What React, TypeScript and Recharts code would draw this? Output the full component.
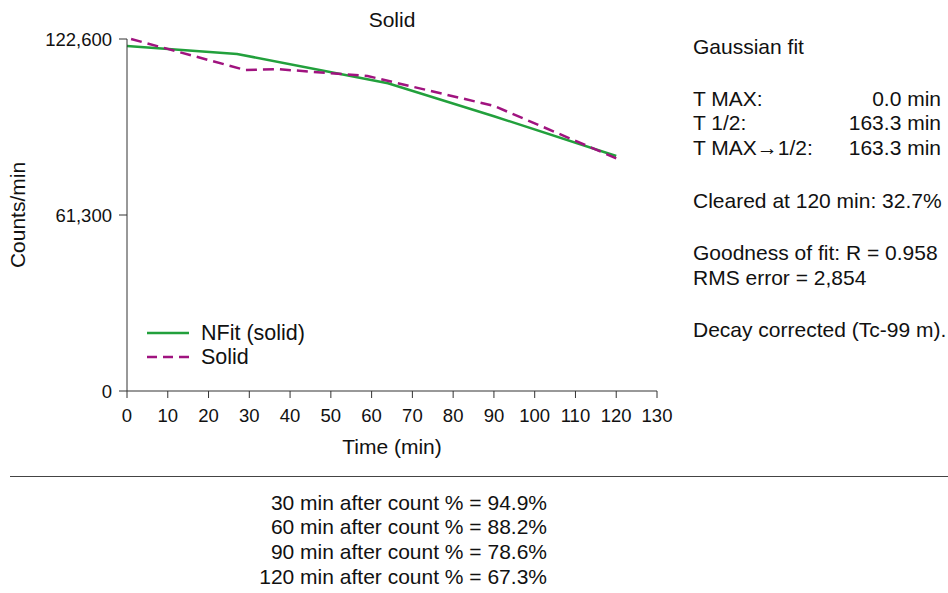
import React from 'react';
import { LineChart, Line, XAxis, YAxis, Legend } from 'recharts';

const FONT = '"Liberation Sans", Arial, sans-serif';

// NFit (solid) – fitted curve
const fitTimes = [0, 27, 64, 90, 120];
const fitCounts = [120160, 117400, 107200, 95700, 81850];

// Solid – measured curve
const solidTimes = [1, 29, 37, 59, 90, 120];
const solidCounts = [122600, 111800, 112100, 109700, 99300, 81050];

const xTicks = [0, 10, 20, 30, 40, 50, 60, 70, 80, 90, 100, 110, 120, 130];
const yTicks = [0, 61300, 122600];

const title = 'Solid';
const xLabel = 'Time (min)';
const yLabel = 'Counts/min';

const fitLines = [
  { label: 'T MAX:', value: '0.0 min' },
  { label: 'T 1/2:', value: '163.3 min' },
  { label: 'T MAX\u21921/2:', value: '163.3 min' },
];
const infoLines = [
  { text: 'Gaussian fit', cy: 47 },
  { text: 'Cleared at 120 min: 32.7%', cy: 201 },
  { text: 'Goodness of fit: R = 0.958', cy: 253 },
  { text: 'RMS error = 2,854', cy: 278 },
  { text: 'Decay corrected (Tc-99 m).', cy: 330 },
];
const fitLineYs = [99, 123, 148];

const afterMinutes = [30, 60, 90, 120];
const afterPercents = ['94.9%', '88.2%', '78.6%', '67.3%'];
const afterYs = [503, 527, 552, 577];

const GREEN = '#22a03c';
const MAGENTA = '#a0137f';
const AXIS = '#333333';

const fitData = fitTimes.map((t, i) => ({ t, v: fitCounts[i] }));
const solidData = solidTimes.map((t, i) => ({ t, v: solidCounts[i] }));

const fmt = (v: number) => v.toLocaleString('en-US');

const LegendContent = (props: any) => {
  const payload = props.payload || [];
  return (
    <div style={{ fontFamily: FONT, fontSize: 21.5, color: '#111' }}>
      {payload.map((p: any, i: number) => (
        <div key={i} style={{ display: 'flex', alignItems: 'center', height: 24 }}>
          <svg width={42} height={4} style={{ marginRight: 12 }}>
            <line
              x1={0}
              y1={2}
              x2={42}
              y2={2}
              stroke={p.color}
              strokeWidth={2.5}
              strokeDasharray={p.payload && p.payload.strokeDasharray ? '10 6' : undefined}
            />
          </svg>
          <span>{p.value}</span>
        </div>
      ))}
    </div>
  );
};

const textStyle: React.CSSProperties = {
  position: 'absolute',
  fontFamily: FONT,
  fontSize: 21,
  color: '#111',
  whiteSpace: 'nowrap',
  height: 24,
  lineHeight: '24px',
};

export default function App() {
  return (
    <div style={{ position: 'absolute', left: 0, top: 0, width: 948, height: 593, background: '#fff', overflow: 'hidden' }}>
      <LineChart
        width={948}
        height={593}
        margin={{ top: 39, right: 291, left: 47, bottom: 132 }}
        style={{ position: 'absolute', left: 0, top: 0 }}
      >
        <XAxis
          type="number"
          dataKey="t"
          domain={[0, 130]}
          ticks={xTicks}
          allowDuplicatedCategory={false}
          height={70}
          stroke={AXIS}
          tickSize={7}
          tickMargin={11}
          tick={{ fill: '#111', fontSize: 18.5, fontFamily: FONT }}
        />
        <YAxis
          type="number"
          domain={[0, 122600]}
          ticks={yTicks}
          width={80}
          stroke={AXIS}
          tickSize={8}
          tickMargin={7}
          tickFormatter={fmt}
          tick={{ fill: '#111', fontSize: 18.5, fontFamily: FONT }}
        />
        <Legend
          layout="vertical"
          align="center"
          verticalAlign="middle"
          content={<LegendContent />}
          wrapperStyle={{ left: 147, top: 321, width: 200 }}
        />
        <Line
          data={fitData}
          dataKey="v"
          name="NFit (solid)"
          type="linear"
          stroke={GREEN}
          strokeWidth={2.5}
          dot={false}
          isAnimationActive={false}
        />
        <Line
          data={solidData}
          dataKey="v"
          name="Solid"
          type="linear"
          stroke={MAGENTA}
          strokeWidth={2.5}
          strokeDasharray="11 6"
          dot={false}
          isAnimationActive={false}
        />
      </LineChart>

      <div style={{ ...textStyle, left: 292, width: 200, textAlign: 'center', top: 20 - 12 }}>{title}</div>
      <div style={{ ...textStyle, left: 292, width: 200, textAlign: 'center', top: 447 - 12 }}>{xLabel}</div>
      <div
        style={{
          ...textStyle,
          left: 18 - 70,
          width: 140,
          textAlign: 'center',
          top: 215 - 12,
          transform: 'rotate(-90deg)',
        }}
      >
        {yLabel}
      </div>

      {infoLines.map((l, i) => (
        <div key={'i' + i} style={{ ...textStyle, left: 693, top: l.cy - 12 }}>{l.text}</div>
      ))}
      {fitLines.map((l, i) => (
        <React.Fragment key={'f' + i}>
          <div style={{ ...textStyle, left: 693, top: fitLineYs[i] - 12 }}>{l.label}</div>
          <div style={{ ...textStyle, right: 7, top: fitLineYs[i] - 12, textAlign: 'right' }}>{l.value}</div>
        </React.Fragment>
      ))}

      <div style={{ position: 'absolute', left: 10, right: 0, top: 476, height: 1, background: '#444' }} />

      {afterMinutes.map((m, i) => (
        <div key={'a' + i} style={{ ...textStyle, left: 0, width: 547, textAlign: 'right', top: afterYs[i] - 12 }}>
          {`${m} min after count % = ${afterPercents[i]}`}
        </div>
      ))}
    </div>
  );
}
